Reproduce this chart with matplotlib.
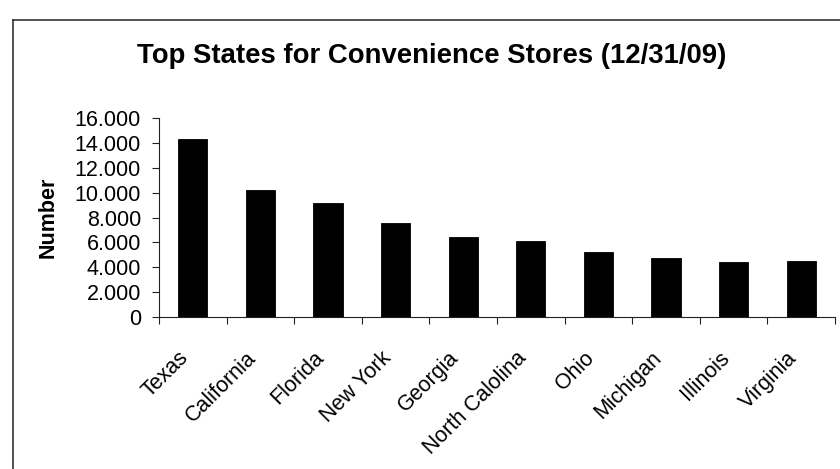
"""
Bar chart of the top ten states by number of convenience stores
"""

import numpy as np
import matplotlib
matplotlib.use('Agg')
import matplotlib.pyplot as plt
from matplotlib.lines import Line2D
from matplotlib.ticker import FuncFormatter, FixedLocator

# store counts as of 12/31/09
states = ['Texas', 'California', 'Florida', 'New York', 'Georgia',
          'North Calolina', 'Ohio', 'Michigan', 'Illinois', 'Virginia']
stores = [14300, 10250, 9150, 7550, 6430, 6100, 5230, 4720, 4450, 4480]
y_ticks = [0, 2000, 4000, 6000, 8000, 10000, 12000, 14000, 16000]

plt.rcParams['font.family'] = ['Liberation Sans', 'DejaVu Sans']

W, H = 840, 469
fig = plt.figure(figsize=(W / 100, H / 100), dpi=100)
fig.patch.set_facecolor('white')

# axes box in pixel terms: left 159, right 835, top 118, bottom 317
ax = fig.add_axes([159 / W, 1 - 317 / H, (835 - 159) / W, (317 - 118) / H])

x = np.arange(len(states))
ax.bar(x, stores, width=0.43, color='black', edgecolor='black', linewidth=0.6)

ax.set_xlim(-0.5, len(states) - 0.5)
ax.set_ylim(0, 16000)

for side in ['top', 'right']:
    ax.spines[side].set_visible(False)
for side in ['left', 'bottom']:
    ax.spines[side].set_linewidth(0.8)
    ax.spines[side].set_color('#222222')

# y axis: dotted thousands separator
ax.yaxis.set_major_locator(FixedLocator(y_ticks))
ax.yaxis.set_major_formatter(FuncFormatter(lambda v, p: f"{v:,.0f}".replace(',', '.')))
ax.tick_params(axis='y', direction='out', length=5, width=0.8, pad=8,
               labelsize=15.5, colors='#222222', labelcolor='black')

# x axis: tick marks between categories, labels at centres
ax.set_xticks(x)
ax.set_xticklabels(states, rotation=45, ha='right')
ax.set_xticks(np.arange(-0.5, len(states)), minor=True)
ax.tick_params(axis='x', which='major', length=0, pad=22, labelsize=15.5)
ax.tick_params(axis='x', which='minor', direction='out', length=5, width=0.8,
               colors='#222222')

fig.text(432 / W, 1 - 63 / H, 'Top States for Convenience Stores (12/31/09)',
         ha='center', va='baseline', fontsize=19.8, fontweight='bold')
fig.text(48 / W, 1 - 217 / H, 'Number', rotation=90, ha='center', va='center',
         fontsize=15.5, fontweight='bold')

# outer frame (left and top edges)
fig.add_artist(Line2D([13 / W, 13 / W], [0, 1 - 20 / H], transform=fig.transFigure,
                      color='#222222', linewidth=1.1))
fig.add_artist(Line2D([13 / W, 1], [1 - 20 / H, 1 - 20 / H], transform=fig.transFigure,
                      color='#222222', linewidth=1.1))

fig.savefig('out.png', dpi=100)
